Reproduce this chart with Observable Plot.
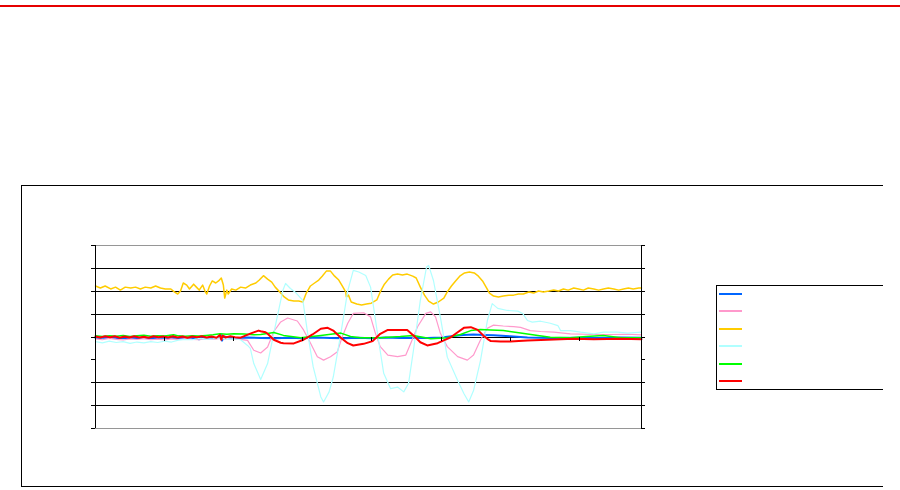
<!DOCTYPE html>
<html><head><meta charset="utf-8">
<script src="https://cdn.jsdelivr.net/npm/d3@7"></script>
<script src="https://cdn.jsdelivr.net/npm/@observablehq/plot@0.6"></script>
<style>
html,body{margin:0;padding:0;background:#fff;}
#wrap{position:relative;width:900px;height:490px;overflow:hidden;background:#fff;}
#topline{position:absolute;left:0;top:5px;width:900px;height:2px;background:#e60000;}
#frame{position:absolute;left:21px;top:185px;width:861px;height:300px;border:1px solid #000;border-right:none;}
#legend{position:absolute;left:716px;top:285px;width:166px;height:103px;border:1px solid #000;border-right:none;}
.item{position:absolute;left:2px;width:23px;height:2px;}
#chart{position:absolute;left:0;top:0;}
</style>
</head><body>
<div id="wrap">
  <div id="topline"></div>
  <div id="frame"></div>
  <div id="chart"></div>
  <div id="legend"></div>
</div>
<script>
// x in samples (0..790), y in arbitrary units (-400..400)
const xDomain = [0, 790];
const yDomain = [-400, 400];
const gridValues = [300, 200, 100, 0, -200, -300];
const boundValues = [-400, 400];
const yTicks = [-400, -300, -200, -100, 0, 100, 200, 300, 400];
const xTicks = [0, 100, 200, 300, 400, 500, 600, 700];

const seriesColors = ["#0066ff", "#ff99cc", "#ffcc00", "#b0ffff", "#00ff00", "#ff0000"];
const seriesWidths = [2, 1.2, 1.5, 1.2, 1.5, 2];

const blue = [[0,-4],[20,-2],[40,-6],[60,-3],[80,-5],[100,-2],[120,-6],[140,-3],[150,-10],[155,3],[160,-7],[178,-4],[181,12],[183,-16],[186,2],[200,-5],[220,-2],[240,-4],[260,-6],[280,-3],[300,-5],[320,-2],[340,-4],[360,-6],[380,-3],[400,-5],[420,-2],[440,-4],[460,-3],[480,-4],[500,-2],[518,4],[532,9],[547,11],[562,9],[576,8],[600,3],[625,-2],[660,-4],[700,-3],[730,-4],[760,-2],[790,-3]];

const pink = [[0,-8],[10,-12],[20,-6],[30,-10],[40,-13],[50,-8],[60,-11],[70,-7],[80,-12],[90,-9],[100,-13],[110,-8],[120,-11],[130,-7],[140,-10],[150,-12],[160,-8],[170,-10],[180,-6],[190,-11],[200,-9],[210,-10],[220,-15],[229,-58],[239,-70],[249,-44],[258,24],[268,66],[278,83],[292,70],[301,31],[311,-26],[321,-86],[330,-101],[340,-86],[350,-64],[357,1],[365,60],[373,103],[388,106],[398,88],[405,16],[412,-42],[423,-79],[437,-86],[449,-79],[456,-28],[466,45],[478,103],[485,110],[492,88],[499,16],[509,-42],[524,-86],[538,-101],[547,-79],[557,-13],[567,38],[576,52],[590,48],[605,45],[615,42],[629,28],[644,24],[663,21],[687,14],[721,11],[745,11],[770,12],[790,9]];

const gold = [[0,223],[7,214],[14,223],[22,210],[29,218],[36,205],[43,218],[51,214],[58,218],[65,210],[72,218],[80,214],[87,223],[94,214],[101,210],[109,210],[114,197],[119,188],[123,201],[127,236],[132,227],[136,210],[142,231],[146,218],[150,205],[155,227],[159,197],[161,188],[165,223],[169,245],[174,236],[178,245],[182,258],[185,227],[187,170],[190,205],[192,188],[197,210],[203,205],[210,218],[217,214],[224,227],[232,236],[237,249],[243,268],[249,253],[255,240],[260,218],[268,192],[273,175],[279,162],[287,157],[294,157],[300,153],[305,192],[311,223],[317,236],[323,249],[328,266],[334,288],[340,288],[346,266],[352,249],[357,223],[362,197],[363,175],[366,183],[370,153],[378,144],[385,140],[392,144],[399,148],[407,162],[412,197],[418,231],[424,253],[430,271],[437,275],[444,271],[451,275],[459,266],[464,258],[470,218],[476,183],[482,157],[489,144],[496,153],[504,170],[509,197],[515,223],[521,245],[527,266],[534,280],[541,284],[548,280],[554,266],[560,245],[566,214],[570,192],[576,179],[583,175],[590,179],[598,183],[605,183],[612,188],[619,188],[627,197],[634,192],[641,201],[648,197],[656,201],[663,205],[670,201],[677,210],[684,205],[692,214],[699,210],[706,205],[713,214],[721,210],[728,205],[735,210],[742,214],[750,210],[757,205],[764,210],[771,214],[778,210],[786,214],[790,214]];

const cyan = [[0,-20],[10,-26],[20,-18],[30,-24],[40,-20],[50,-28],[60,-22],[70,-26],[80,-20],[90,-24],[100,-18],[110,-22],[120,-14],[130,-10],[140,-12],[150,-6],[160,-10],[170,-8],[180,-4],[190,-10],[200,-8],[210,-12],[220,-37],[224,-50],[229,-116],[239,-186],[249,-116],[258,17],[271,203],[275,234],[282,212],[289,196],[300,160],[307,16],[315,-131],[326,-262],[330,-284],[338,-240],[344,-175],[355,16],[365,203],[373,291],[381,284],[391,269],[398,218],[408,16],[417,-159],[427,-226],[437,-219],[446,-240],[453,-202],[460,-59],[470,160],[479,306],[482,313],[489,247],[499,87],[509,-88],[524,-190],[533,-247],[540,-284],[547,-234],[557,-103],[567,72],[574,146],[582,125],[596,116],[611,113],[618,103],[625,72],[632,65],[644,69],[658,60],[669,50],[673,28],[687,28],[702,21],[721,14],[735,21],[755,21],[770,17],[790,21]];

const green = [[0,5],[10,2],[20,6],[30,3],[40,7],[50,2],[60,5],[70,8],[80,3],[90,6],[100,4],[113,10],[120,5],[130,3],[140,6],[150,4],[160,7],[170,10],[180,14],[190,12],[200,14],[215,13],[229,10],[239,11],[258,20],[272,7],[297,-3],[326,7],[355,17],[369,2],[383,-3],[412,-3],[441,2],[460,7],[485,-8],[509,-3],[528,11],[543,28],[557,33],[572,31],[590,28],[615,17],[640,7],[658,-1],[687,-3],[710,2],[735,7],[760,-3],[790,-3]];

const red = [[0,2],[7,-2],[14,3],[21,-1],[28,3],[35,-3],[42,2],[49,-2],[56,3],[63,-2],[70,1],[77,-3],[84,3],[91,-1],[98,2],[105,-2],[112,3],[119,-2],[126,2],[133,-3],[140,2],[147,-1],[154,3],[161,-2],[168,2],[175,-3],[180,8],[182,-12],[184,6],[188,-2],[195,3],[202,-1],[210,-3],[224,15],[236,28],[239,25],[246,21],[249,14],[258,-12],[268,-25],[272,-27],[287,-28],[301,-12],[314,11],[326,36],[336,40],[344,28],[355,-3],[365,-27],[373,-37],[388,-30],[401,-18],[412,14],[423,31],[437,31],[451,31],[460,7],[470,-23],[480,-37],[495,-27],[504,-15],[514,-1],[524,21],[533,40],[543,43],[553,31],[561,7],[567,-8],[572,-18],[586,-20],[600,-20],[625,-15],[654,-12],[692,-8],[721,-10],[760,-8],[790,-10]];

const seriesList = [blue, pink, gold, cyan, green, red];

const crisp = {shapeRendering: "crispEdges"};
const chart = Plot.plot({
  width: 900, height: 490,
  marginLeft: 95, marginRight: 259, marginTop: 245, marginBottom: 62,
  x: {domain: xDomain, axis: null},
  y: {domain: yDomain, axis: null},
  style: {background: "transparent", overflow: "visible"},
  marks: [
    Plot.ruleY(gridValues, {stroke: "#000", strokeWidth: 1, ...crisp}),
    Plot.ruleY(boundValues, {stroke: "#969696", strokeWidth: 1, ...crisp}),
    ...seriesList.map((s, i) => Plot.line(s, {x: d => d[0], y: d => d[1], stroke: seriesColors[i], strokeWidth: seriesWidths[i], strokeLinejoin: "round"})),
    Plot.ruleX([xDomain[0]], {stroke: "#000", strokeWidth: 1, ...crisp}),
    Plot.ruleX([xDomain[1]], {stroke: "#000", strokeWidth: 1, ...crisp}),
    Plot.ruleY(yTicks, {x1: xDomain[0], x2: xDomain[0], insetLeft: -4, stroke: "#000", ...crisp}),
    Plot.ruleY(yTicks, {x1: xDomain[1], x2: xDomain[1], insetRight: -4, stroke: "#000", ...crisp}),
    Plot.ruleX(xTicks, {y1: 0, y2: 0, insetBottom: -4, stroke: "#000", ...crisp})
  ]
});
document.getElementById("chart").appendChild(chart);

const legend = document.getElementById("legend");
seriesColors.forEach((c, i) => {
  const d = document.createElement("div");
  d.className = "item";
  d.style.top = (7 + 17.4 * i).toFixed(1) + "px";
  d.style.background = c;
  legend.appendChild(d);
});
</script>
</body></html>
